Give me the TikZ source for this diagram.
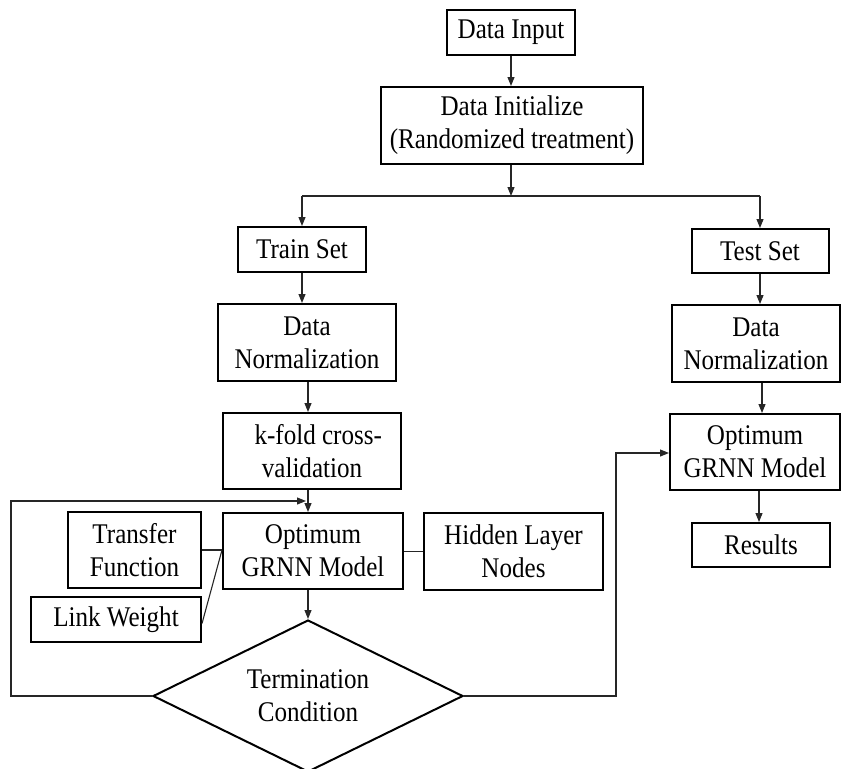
\documentclass[tikz,border=0pt]{standalone}
\usepackage{fontspec}
\setmainfont{Liberation Serif}[FakeStretch=0.88]
\usetikzlibrary{arrows.meta,shapes.geometric}
\begin{document}
\begin{tikzpicture}[x=1pt,y=-1pt,
  font=\fontsize{28.5}{33}\selectfont,
  box/.style={draw=black,line width=2pt,rectangle,inner sep=0pt,align=center},
  decision/.style={draw=black,line width=2pt,diamond,inner sep=0pt,aspect=2.04,
    minimum width=310pt,minimum height=152pt,align=center},
  link/.style={draw=black!85,line width=1.1pt},
  flow/.style={link,-{Triangle[length=9pt,width=7pt]}}]
\useasboundingbox (0,0) rectangle (842,768);

% main sequence
\node[box,minimum width=128pt,minimum height=45pt] (input) at (511,32.5) {Data Input};
\node[box,minimum width=262pt,minimum height=77pt] (init) at (512,125.5) {Data Initialize\\(Randomized treatment)};
\coordinate (split) at (511,196);

% training branch
\node[box,minimum width=128pt,minimum height=45pt] (train) at (302,249.5) {Train Set};
\node[box,minimum width=178pt,minimum height=77pt] (normL) at (307,342.5) {Data\\Normalization};
\node[box,minimum width=178pt,minimum height=76pt] (kfold) at (312,451) {\ \ k-fold cross-\\validation};
\node[box,minimum width=180pt,minimum height=76pt] (grnnL) at (313,551) {Optimum\\GRNN Model};
\node[box,minimum width=133pt,minimum height=76pt] (transfer) at (134.5,550) {Transfer\\Function};
\node[box,minimum width=170pt,minimum height=45pt] (weight) at (116,619.5) {Link Weight};
\node[box,minimum width=179pt,minimum height=77pt] (hidden) at (513.5,551.5) {Hidden Layer\\Nodes};
\node[decision] (term) at (308,696) {Termination\\Condition};

% testing branch
\node[box,minimum width=137pt,minimum height=44pt] (test) at (760,251) {Test Set};
\node[box,minimum width=168pt,minimum height=77pt] (normR) at (756,343.5) {Data\\Normalization};
\node[box,minimum width=170pt,minimum height=76pt] (grnnR) at (755,452) {Optimum\\GRNN Model};
\node[box,minimum width=138pt,minimum height=44pt] (results) at (761,545) {Results};

% loop corners
\coordinate (loopL) at (11,501);
\coordinate (loopJoin) at (306,501);
\coordinate (loopR) at (616,453);

% connectors
\draw[flow] (input.south -| split) -- (init.north -| split);
\draw[flow] (init.south -| split) -- (split);
\draw[link] (train.north |- split) -- (test.north |- split);
\draw[flow] (train.north |- split) -- (train.north);
\draw[flow] (test.north |- split) -- (test.north);

\draw[flow] (train.south) -- (train.south |- normL.north);
\draw[flow] ([xshift=-4pt]kfold.north |- normL.south) -- ([xshift=-4pt]kfold.north);
\draw[flow] ([xshift=-4pt]kfold.south) -- ([xshift=-4pt]kfold.south |- grnnL.north);
\draw[flow] ([xshift=-5pt]grnnL.south) -- (term.north);

\draw[link] (transfer.east) -- (transfer.east -| grnnL.west);
\draw[link] ([yshift=-4pt]weight.east) -- ([yshift=1pt]grnnL.west);
\draw[link] (hidden.west) -- (hidden.west -| grnnL.east);

\draw[flow] (term.west) -| (loopL) -- (loopJoin);
\draw[flow] (term.east) -| (loopR) -- (loopR -| grnnR.west);

\draw[flow] (test.south) -- (test.south |- normR.north);
\draw[flow] ([xshift=6pt]normR.south) -- ([xshift=6pt]normR.south |- grnnR.north);
\draw[flow] ([xshift=4pt]grnnR.south) -- ([xshift=4pt]grnnR.south |- results.north);
\end{tikzpicture}
\end{document}
